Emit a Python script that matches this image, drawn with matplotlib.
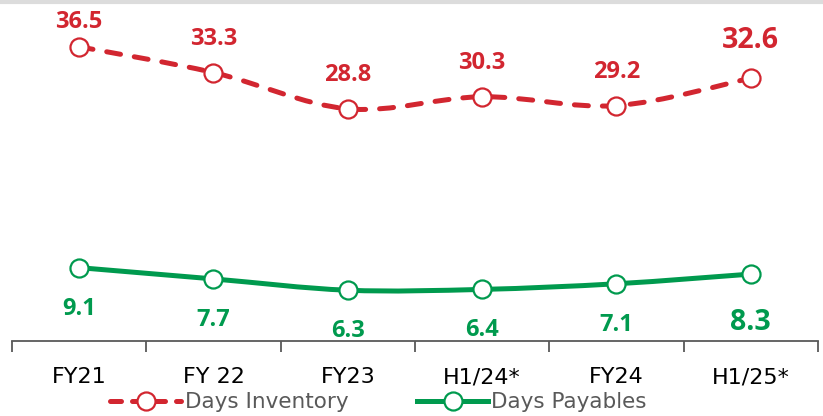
import numpy as np
import matplotlib.pyplot as plt
from matplotlib.path import Path
from matplotlib.patches import PathPatch
from matplotlib.lines import Line2D

categories = ['FY21', 'FY 22', 'FY23', 'H1/24*', 'FY24', 'H1/25*']
days_inventory = [36.5, 33.3, 28.8, 30.3, 29.2, 32.6]
days_payables = [9.1, 7.7, 6.3, 6.4, 7.1, 8.3]

RED = '#d22630'
GREEN = '#009a4e'
NUM_FONT = ['Open Sans', 'DejaVu Sans']
CAT_FONT = ['DejaVu Sans']


def smooth_path(xs, ys):
  # excel-like smoothed line: cubic bezier through each point
  pts = np.column_stack([xs, ys]).astype(float)
  n = len(pts)
  verts = [pts[0]]
  codes = [Path.MOVETO]
  for i in range(n - 1):
    p0 = pts[max(i - 1, 0)]
    p1 = pts[i]
    p2 = pts[i + 1]
    p3 = pts[min(i + 2, n - 1)]
    c1 = p1 + (p2 - p0) / 6
    c2 = p2 - (p3 - p1) / 6
    verts += [c1, c2, p2]
    codes += [Path.CURVE4] * 3
  return Path(verts, codes)


fig = plt.figure(figsize=(8.23, 4.16), dpi=100)
ax = fig.add_axes([12/823, 1 - 341/416, 806/823, 341/416])
x = np.arange(len(categories))

inv = PathPatch(smooth_path(x, days_inventory), fill=False, edgecolor=RED, lw=3.6,
                linestyle=(0, (2.8, 2.8)), capstyle='round', joinstyle='round')
ax.add_patch(inv)
pay = PathPatch(smooth_path(x, days_payables), fill=False, edgecolor=GREEN, lw=3.6,
                capstyle='round')
ax.add_patch(pay)
ax.plot(x, days_inventory, 'o', ms=13, mfc='white', mec=RED, mew=1.6, zorder=5)
ax.plot(x, days_payables, 'o', ms=13, mfc='white', mec=GREEN, mew=1.6, zorder=5)

for i, v in enumerate(days_inventory):
  big = i == len(x) - 1
  off = 17.5 if i == 0 else (27 if big else 24.5)
  ax.annotate(f'{v}', (x[i], v), xytext=(0, off), textcoords='offset points',
              ha='center', va='center', color=RED, fontweight='bold',
              fontsize=20.5 if big else 17, family=NUM_FONT)
for i, v in enumerate(days_payables):
  big = i == len(x) - 1
  ax.annotate(f'{v}', (x[i], v), xytext=(0, -35 if big else -29.5), textcoords='offset points',
              ha='center', va='center', color=GREEN, fontweight='bold',
              fontsize=20.5 if big else 17, family=NUM_FONT)

ax.set_xlim(-0.5, len(x) - 0.5)
ax.set_ylim(0, 42.3)
ax.set_yticks([])
for s in ['top', 'right', 'left']:
  ax.spines[s].set_visible(False)
ax.spines['bottom'].set_color('#595959')
ax.spines['bottom'].set_linewidth(1.3)
ax.set_xticks(np.arange(len(x) + 1) - 0.5)
ax.set_xticklabels([])
ax.tick_params(axis='x', which='major', length=8, width=1.3, color='#595959')
ax.set_xticks(x, minor=True)
ax.set_xticklabels(categories, minor=True, family=CAT_FONT, fontsize=16)
ax.tick_params(axis='x', which='minor', length=0, pad=19)

handles = [
  Line2D([], [], color=RED, lw=3.6, linestyle=(0, (2.2, 2.2)), dash_capstyle='round',
         marker='o', ms=13, mfc='white', mec=RED, mew=1.6),
  Line2D([], [], color=GREEN, lw=3.6, marker='o', ms=13, mfc='white', mec=GREEN, mew=1.6),
]
leg = fig.legend(handles, ['Days Inventory', 'Days Payables'], loc='center',
                 bbox_to_anchor=(0.46, 0.033), ncol=2, frameon=False,
                 handlelength=3.3, handletextpad=0.15, columnspacing=3.2,
                 prop={'family': CAT_FONT, 'size': 15.5})
for t in leg.get_texts():
  t.set_color('#595959')

fig.add_artist(Line2D([0, 1], [0.995, 0.995], transform=fig.transFigure,
                      color='#dcdcdc', lw=3))

plt.savefig('out.png', dpi=100)
